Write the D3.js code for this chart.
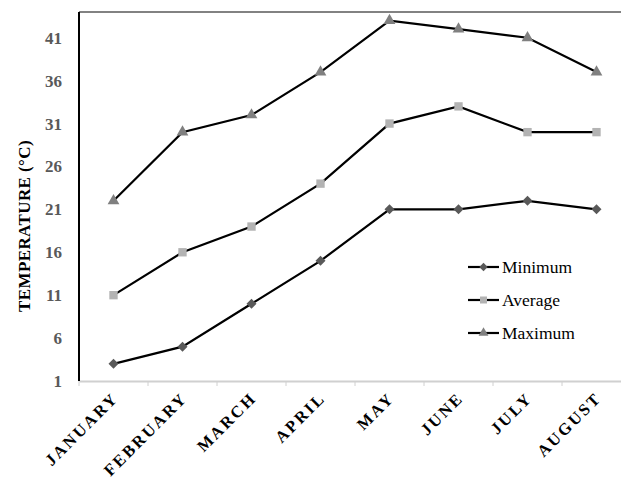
<!DOCTYPE html>
<html>
<head>
<meta charset="utf-8">
<script src="https://cdn.jsdelivr.net/npm/d3@7"></script>
<style>
  body { margin: 0; background: #fff; }
  svg { display: block; }
  svg text { font-family: "Liberation Serif", "Times New Roman", "DejaVu Serif", serif; }
</style>
</head>
<body>
<svg width="621" height="482"></svg>
<script>
// chart data
const months = ["JANUARY", "FEBRUARY", "MARCH", "APRIL", "MAY", "JUNE", "JULY", "AUGUST"];
const minimum = [3, 5, 10, 15, 21, 21, 22, 21];
const average = [11, 16, 19, 24, 31, 33, 30, 30];
const maximum = [22, 30, 32, 37, 43, 42, 41, 37];
const yTicks = [1, 6, 11, 16, 21, 26, 31, 36, 41];

const serif = "'Liberation Serif', 'Times New Roman', serif";

const svg = d3.select("svg"),
    plotLeft = 79, plotTop = 12, plotRight = 631, plotBottom = 381;

const x = d3.scaleBand().domain(months).range([plotLeft, plotRight]);
const y = d3.scaleLinear().domain([1, 44]).range([plotBottom, plotTop]);

// diamond = square turned 45 degrees
const series = [
  { name: "Minimum", values: minimum, shape: d3.symbolSquare, size: 50, rot: 45, fill: "#595959" },
  { name: "Average", values: average, shape: d3.symbolSquare, size: 70, rot: 0, fill: "#b3b3b3" },
  { name: "Maximum", values: maximum, shape: d3.symbolTriangle, size: 60, rot: 0, fill: "#808080" }
];

// frame: top border and x axis line
svg.append("line")
    .attr("x1", plotLeft).attr("x2", 621).attr("y1", plotTop).attr("y2", plotTop)
    .attr("stroke", "#595959").attr("stroke-width", 1.5);

const xAxis = svg.append("g")
    .attr("transform", `translate(0,${plotBottom})`)
    .call(d3.axisBottom(x).tickSize(0).tickFormat(""));
xAxis.select(".domain").attr("stroke", "#d0d0d0").attr("stroke-width", 2);

// tick marks between categories
const edges = months.map(m => x(m));
svg.selectAll(".xtick")
  .data(edges)
  .join("line")
    .attr("x1", d => d).attr("x2", d => d)
    .attr("y1", plotBottom).attr("y2", plotBottom + 5)
    .attr("stroke", "#d0d0d0").attr("stroke-width", 1);

// month labels
svg.selectAll(".mlabel")
  .data(months)
  .join("text")
    .attr("transform", d => `translate(${x(d) + x.bandwidth() / 2 + 6},${plotBottom + 18}) rotate(-45)`)
    .attr("text-anchor", "end")
    .style("font-family", serif)
    .attr("font-size", 16.5)
    .attr("font-weight", "bold")
    .attr("letter-spacing", 2.4)
    .attr("fill", "#000")
    .text(d => d);

// y axis
const yAxis = svg.append("g")
    .attr("transform", `translate(${plotLeft},0)`)
    .call(d3.axisLeft(y).tickValues(yTicks).tickSize(0).tickPadding(17));
yAxis.select(".domain").remove();
yAxis.attr("font-family", null);
yAxis.selectAll("text")
    .style("font-family", serif)
    .attr("font-size", 17)
    .attr("font-weight", "bold")
    .attr("fill", "#595959");
svg.append("line")
    .attr("x1", plotLeft).attr("x2", plotLeft).attr("y1", plotTop).attr("y2", plotBottom)
    .attr("stroke", "#000").attr("stroke-width", 2);

svg.append("text")
    .attr("transform", `translate(30,226) rotate(-90)`)
    .attr("text-anchor", "middle")
    .style("font-family", serif)
    .attr("font-size", 17)
    .attr("font-weight", "bold")
    .attr("letter-spacing", 0.4)
    .attr("fill", "#000")
    .text("TEMPERATURE  (°C)");

// lines and markers
const line = d3.line()
    .x((d, i) => x(months[i]) + x.bandwidth() / 2)
    .y(d => y(d));

series.forEach(s => {
  svg.append("path")
      .datum(s.values)
      .attr("d", line)
      .attr("fill", "none")
      .attr("stroke", "#000")
      .attr("stroke-width", 2.2);
  svg.append("g").selectAll("path")
    .data(s.values)
    .join("path")
      .attr("transform", (d, i) => `translate(${x(months[i]) + x.bandwidth() / 2},${y(d)}) rotate(${s.rot})`)
      .attr("d", d3.symbol(s.shape, s.size))
      .attr("fill", s.fill);
});

// legend
const legend = svg.append("g").selectAll("g")
  .data(series)
  .join("g")
    .attr("transform", (d, i) => `translate(468,${267 + i * 33})`);
legend.append("line")
    .attr("x1", 0).attr("x2", 31).attr("y1", 0).attr("y2", 0)
    .attr("stroke", "#000").attr("stroke-width", 2.2);
legend.append("path")
    .attr("transform", d => `translate(15.5,0) rotate(${d.rot})`)
    .attr("d", d => d3.symbol(d.shape, d.size * 0.7)())
    .attr("fill", d => d.fill);
legend.append("text")
    .attr("x", 34).attr("y", 6)
    .style("font-family", serif)
    .attr("font-size", 17.5)
    .attr("fill", "#000")
    .text(d => d.name);
</script>
</body>
</html>
